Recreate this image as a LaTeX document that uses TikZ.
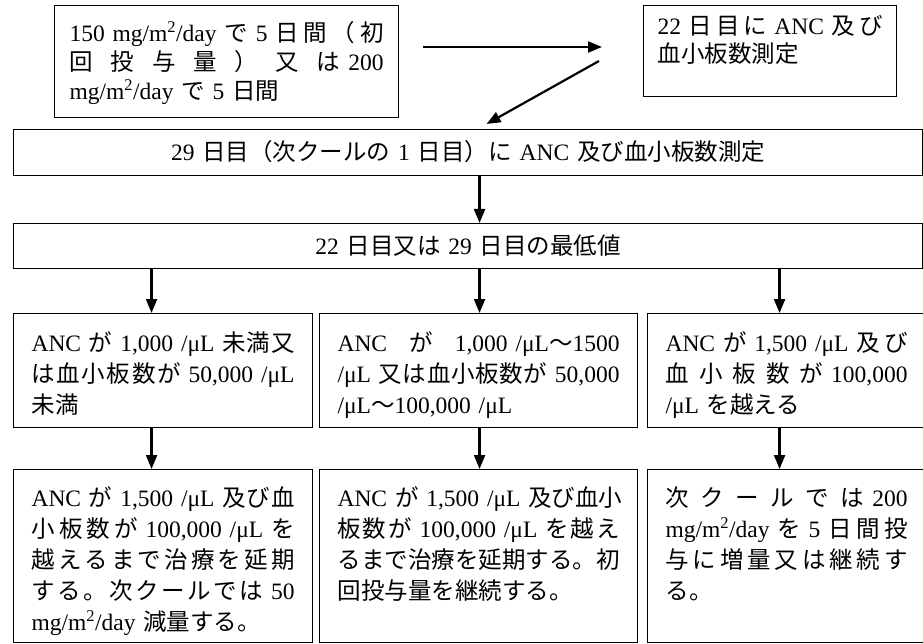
\documentclass[tikz,border=0pt]{standalone}
\usepackage{fontspec}
\setmainfont{Liberation Serif}
\newfontfamily\jafont{Noto Sans CJK JP}
\usetikzlibrary{arrows.meta}
\tikzset{>={Triangle[length=14pt,width=11pt]}}

% Japanese characters switch to the CJK font by themselves
\XeTeXinterchartokenstate=1
\newXeTeXintercharclass\jaclass
\newcount\jacode
\jacode="3000 \loop\XeTeXcharclass\jacode=\jaclass \advance\jacode by 1 \ifnum\jacode<"3100 \repeat
\jacode="4E00 \loop\XeTeXcharclass\jacode=\jaclass \advance\jacode by 1 \ifnum\jacode<"A000 \repeat
\jacode="FF00 \loop\XeTeXcharclass\jacode=\jaclass \advance\jacode by 1 \ifnum\jacode<"FFF0 \repeat
\def\jaglue{}
\XeTeXinterchartoks 0 \jaclass = {\jafont}
\XeTeXinterchartoks 4095 \jaclass = {\jafont}
\XeTeXinterchartoks \jaclass 0 = {\rmfamily}
\XeTeXinterchartoks \jaclass 4095 = {\rmfamily}
\XeTeXinterchartoks \jaclass \jaclass = {\jaglue}

% a full line, spread out to the width of the box
\newcommand{\fl}[1]{\leavevmode\hbox to\linewidth{\def\jaglue{\hskip 0pt plus 2pt}#1}}

\begin{document}
\begin{tikzpicture}[x=1pt, y=-1pt,
    box/.style={draw, line width=1.1pt, anchor=north west, inner xsep=18pt, inner ysep=0pt, align=left, font=\fontsize{23.5}{31}\selectfont},
    arr/.style={->, line width=2.2pt}]
    \useasboundingbox (0,0) rectangle (923,644);
    \clip (0,0) rectangle (923,644);
    \node[box, inner xsep=15pt, text width=314pt, text height=36pt, text depth=76pt, font=\fontsize{23.5}{29}\selectfont] (dose) at (54,5)
        {\fl{150 mg/m\textsuperscript{2}/day で 5 日間（初}\\
         \fl{回投与量）又は 200}\\
         mg/m\textsuperscript{2}/day で 5 日間};
    \node[box, inner xsep=14pt, text width=225pt, text height=29pt, text depth=62pt, font=\fontsize{23.5}{28}\selectfont] (day22) at (643,5)
        {\fl{22 日目に ANC 及び}\\
         血小板数測定};
    \node[box, align=center, text width=873pt, text height=31pt, text depth=15pt] (day29) at (13,129)
        {29 日目（次クールの 1 日目）に ANC 及び血小板数測定};
    \node[box, align=center, text width=873pt, text height=31pt, text depth=14pt] (low) at (13,223)
        {22 日目又は 29 日目の最低値};
    \node[box, text width=263pt, text height=38pt, text depth=76pt] (lowL) at (13,313)
        {\fl{ANC が 1,000 /μL 未満又}\\
         \fl{は血小板数が 50,000 /μL}\\
         未満};
    \node[box, text width=282pt, text height=38pt, text depth=76pt] (lowM) at (319,313)
        {\fl{ANC\hfil\ が\hfil\ 1,000 /μL～1500}\\
         \fl{/μL 又は血小板数が 50,000}\\
         /μL～100,000 /μL};
    \node[box, text width=242pt, text height=38pt, text depth=76pt] (lowR) at (647,313)
        {\fl{ANC が 1,500 /μL 及び}\\
         \fl{血小板数が 100,000}\\
         /μL を越える};
    \node[box, text width=263pt, text height=37pt, text depth=136pt] (actL) at (13,469)
        {\fl{ANC が 1,500 /μL 及び血}\\
         \fl{小板数が 100,000 /μL を}\\
         \fl{越えるまで治療を延期}\\
         \fl{する。次クールでは 50}\\
         mg/m\textsuperscript{2}/day 減量する。};
    \node[box, text width=282pt, text height=37pt, text depth=136pt] (actM) at (319,469)
        {\fl{ANC が 1,500 /μL 及び血小}\\
         \fl{板数が 100,000 /μL を越え}\\
         \fl{るまで治療を延期する。初}\\
         回投与量を継続する。};
    \node[box, text width=242pt, text height=37pt, text depth=136pt] (actR) at (647,469)
        {\fl{次クールでは 200}\\
         \fl{mg/m\textsuperscript{2}/day を 5 日間投}\\
         \fl{与に増量又は継続す}\\
         る。};
    \draw[arr] ([shift={(24pt,-42pt)}]dose.north east) -- ([shift={(-41pt,-42pt)}]day22.north west);
    \draw[arr] ([shift={(-44pt,-56pt)}]day22.north west) -- ([shift={(18.5pt,5pt)}]day29.north);
    \draw[arr] ([xshift=11.5pt]day29.south) -- ([xshift=11.5pt]low.north);
    \draw[arr] ([xshift=-11.5pt]lowL.north |- low.south) -- ([xshift=-11.5pt]lowL.north);
    \draw[arr] ([xshift=1pt]lowM.north |- low.south) -- ([xshift=1pt]lowM.north);
    \draw[arr] ([xshift=-7pt]lowR.north |- low.south) -- ([xshift=-7pt]lowR.north);
    \draw[arr] ([xshift=-11.5pt]lowL.south) -- ([xshift=-11.5pt]actL.north);
    \draw[arr] ([xshift=1pt]lowM.south) -- ([xshift=1pt]actM.north);
    \draw[arr] ([xshift=-7pt]lowR.south) -- ([xshift=-7pt]actR.north);
\end{tikzpicture}
\end{document}
